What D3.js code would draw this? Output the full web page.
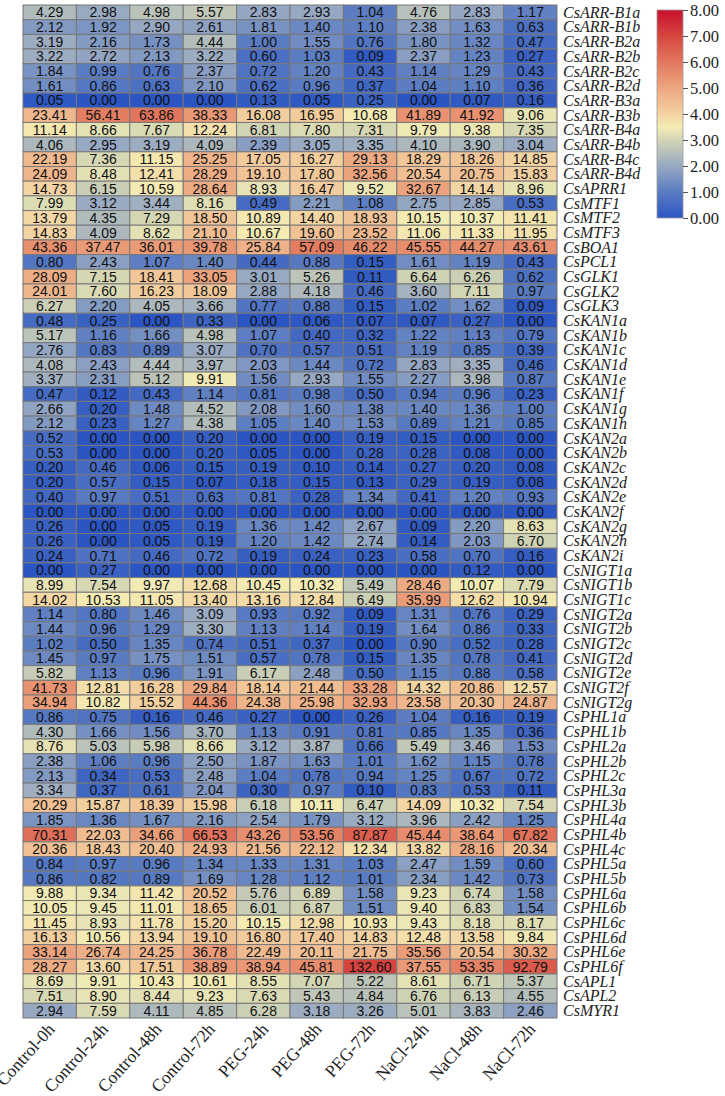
<!DOCTYPE html>
<html>
<head>
<meta charset="utf-8">
<script src="https://cdn.jsdelivr.net/npm/d3@7"></script>
<style>
body { margin:0; background:#fff; }
svg { display:block; }
.cell text { font-family:"Liberation Sans", Arial, sans-serif; font-size:14px; fill:#111; }
.gene { font-family:"Liberation Serif", "Times New Roman", serif; font-style:italic; font-size:16px; fill:#222; }
.cond { font-family:"Liberation Serif", "Times New Roman", serif; font-size:17.5px; fill:#222; }
</style>
</head>
<body>
<svg id="heat" width="725" height="1096"></svg>
<script>
var conditions = ["Control-0h","Control-24h","Control-48h","Control-72h","PEG-24h","PEG-48h","PEG-72h","NaCl-24h","NaCl-48h","NaCl-72h"];

var genes = ["CsARR-B1a","CsARR-B1b","CsARR-B2a","CsARR-B2b","CsARR-B2c","CsARR-B2d","CsARR-B3a","CsARR-B3b",
  "CsARR-B4a","CsARR-B4b","CsARR-B4c","CsARR-B4d","CsAPRR1","CsMTF1","CsMTF2","CsMTF3","CsBOA1","CsPCL1",
  "CsGLK1","CsGLK2","CsGLK3","CsKAN1a","CsKAN1b","CsKAN1c","CsKAN1d","CsKAN1e","CsKAN1f","CsKAN1g","CsKAN1h",
  "CsKAN2a","CsKAN2b","CsKAN2c","CsKAN2d","CsKAN2e","CsKAN2f","CsKAN2g","CsKAN2h","CsKAN2i",
  "CsNIGT1a","CsNIGT1b","CsNIGT1c","CsNIGT2a","CsNIGT2b","CsNIGT2c","CsNIGT2d","CsNIGT2e","CsNIGT2f","CsNIGT2g",
  "CsPHL1a","CsPHL1b","CsPHL2a","CsPHL2b","CsPHL2c","CsPHL3a","CsPHL3b","CsPHL4a","CsPHL4b","CsPHL4c",
  "CsPHL5a","CsPHL5b","CsPHL6a","CsPHL6b","CsPHL6c","CsPHL6d","CsPHL6e","CsPHL6f","CsAPL1","CsAPL2","CsMYR1"];

// expression values, one row per gene, columns follow conditions
var expr = [
  [4.29,2.98,4.98,5.57,2.83,2.93,1.04,4.76,2.83,1.17],
  [2.12,1.92,2.90,2.61,1.81,1.40,1.10,2.38,1.63,0.63],
  [3.19,2.16,1.73,4.44,1.00,1.55,0.76,1.80,1.32,0.47],
  [3.22,2.72,2.13,3.22,0.60,1.03,0.09,2.37,1.23,0.27],
  [1.84,0.99,0.76,2.37,0.72,1.20,0.43,1.14,1.29,0.43],
  [1.61,0.86,0.63,2.10,0.62,0.96,0.37,1.04,1.10,0.36],
  [0.05,0.00,0.00,0.00,0.13,0.05,0.25,0.00,0.07,0.16],
  [23.41,56.41,63.86,38.33,16.08,16.95,10.68,41.89,41.92,9.06],
  [11.14,8.66,7.67,12.24,6.81,7.80,7.31,9.79,9.38,7.35],
  [4.06,2.95,3.19,4.09,2.39,3.05,3.35,4.10,3.90,3.04],
  [22.19,7.36,11.15,25.25,17.05,16.27,29.13,18.29,18.26,14.85],
  [24.09,8.48,12.41,28.29,19.10,17.80,32.56,20.54,20.75,15.83],
  [14.73,6.15,10.59,28.64,8.93,16.47,9.52,32.67,14.14,8.96],
  [7.99,3.12,3.44,8.16,0.49,2.21,1.08,2.75,2.85,0.53],
  [13.79,4.35,7.29,18.50,10.89,14.40,18.93,10.15,10.37,11.41],
  [14.83,4.09,8.62,21.10,10.67,19.60,23.52,11.06,11.33,11.95],
  [43.36,37.47,36.01,39.78,25.84,57.09,46.22,45.55,44.27,43.61],
  [0.80,2.43,1.07,1.40,0.44,0.88,0.15,1.61,1.19,0.43],
  [28.09,7.15,18.41,33.05,3.01,5.26,0.11,6.64,6.26,0.62],
  [24.01,7.60,16.23,18.09,2.88,4.18,0.46,3.60,7.11,0.97],
  [6.27,2.20,4.05,3.66,0.77,0.88,0.15,1.02,1.62,0.09],
  [0.48,0.25,0.00,0.33,0.00,0.06,0.07,0.07,0.27,0.00],
  [5.17,1.16,1.66,4.98,1.07,0.40,0.32,1.22,1.13,0.79],
  [2.76,0.83,0.89,3.07,0.70,0.57,0.51,1.19,0.85,0.39],
  [4.08,2.43,4.44,3.97,2.03,1.44,0.72,2.83,3.35,0.46],
  [3.37,2.31,5.12,9.91,1.56,2.93,1.55,2.27,3.98,0.87],
  [0.47,0.12,0.43,1.14,0.81,0.98,0.50,0.94,0.96,0.23],
  [2.66,0.20,1.48,4.52,2.08,1.60,1.38,1.40,1.36,1.00],
  [2.12,0.23,1.27,4.38,1.05,1.40,1.53,0.89,1.21,0.85],
  [0.52,0.00,0.00,0.20,0.00,0.00,0.19,0.15,0.00,0.00],
  [0.53,0.00,0.00,0.20,0.05,0.00,0.28,0.28,0.08,0.00],
  [0.20,0.46,0.06,0.15,0.19,0.10,0.14,0.27,0.20,0.08],
  [0.20,0.57,0.15,0.07,0.18,0.15,0.13,0.29,0.19,0.08],
  [0.40,0.97,0.51,0.63,0.81,0.28,1.34,0.41,1.20,0.93],
  [0.00,0.00,0.00,0.00,0.00,0.00,0.00,0.00,0.00,0.00],
  [0.26,0.00,0.05,0.19,1.36,1.42,2.67,0.09,2.20,8.63],
  [0.26,0.00,0.05,0.19,1.20,1.42,2.74,0.14,2.03,6.70],
  [0.24,0.71,0.46,0.72,0.19,0.24,0.23,0.58,0.70,0.16],
  [0.00,0.27,0.00,0.00,0.00,0.00,0.00,0.00,0.12,0.00],
  [8.99,7.54,9.97,12.68,10.45,10.32,5.49,28.46,10.07,7.79],
  [14.02,10.53,11.05,13.40,13.16,12.84,6.49,35.99,12.62,10.94],
  [1.14,0.80,1.46,3.09,0.93,0.92,0.09,1.31,0.76,0.29],
  [1.44,0.96,1.29,3.30,1.13,1.14,0.19,1.64,0.86,0.33],
  [1.02,0.50,1.35,0.74,0.51,0.37,0.00,0.90,0.52,0.28],
  [1.45,0.97,1.75,1.51,0.57,0.78,0.15,1.35,0.78,0.41],
  [5.82,1.13,0.96,1.91,6.17,2.48,0.50,1.15,0.88,0.58],
  [41.73,12.81,16.28,29.84,18.14,21.44,33.28,14.32,20.86,12.57],
  [34.94,10.82,15.52,44.36,24.38,25.98,32.93,23.58,20.30,24.87],
  [0.86,0.75,0.16,0.46,0.27,0.00,0.26,1.04,0.16,0.19],
  [4.30,1.66,1.56,3.70,1.13,0.91,0.81,0.85,1.35,0.36],
  [8.76,5.03,5.98,8.66,3.12,3.87,0.66,5.49,3.46,1.53],
  [2.38,1.06,0.96,2.50,1.87,1.63,1.01,1.62,1.15,0.78],
  [2.13,0.34,0.53,2.48,1.04,0.78,0.94,1.25,0.67,0.72],
  [3.34,0.37,0.61,2.04,0.30,0.97,0.10,0.83,0.53,0.11],
  [20.29,15.87,18.39,15.98,6.18,10.11,6.47,14.09,10.32,7.54],
  [1.85,1.36,1.67,2.16,2.54,1.79,3.12,3.96,2.42,1.25],
  [70.31,22.03,34.66,66.53,43.26,53.56,87.87,45.44,38.64,67.82],
  [20.36,18.43,20.40,24.93,21.56,22.12,12.34,13.82,28.16,20.34],
  [0.84,0.97,0.96,1.34,1.33,1.31,1.03,2.47,1.59,0.60],
  [0.86,0.82,0.89,1.69,1.28,1.12,1.01,2.34,1.42,0.73],
  [9.88,9.34,11.42,20.52,5.76,6.89,1.58,9.23,6.74,1.58],
  [10.05,9.45,11.01,18.65,6.01,6.87,1.51,9.40,6.83,1.54],
  [11.45,8.93,11.78,15.20,10.15,12.98,10.93,9.43,8.18,8.17],
  [16.13,10.56,13.94,19.10,16.80,17.40,14.83,12.48,13.58,9.84],
  [33.14,26.74,24.25,36.78,22.49,20.11,21.75,35.56,20.54,30.32],
  [28.27,13.60,17.51,38.89,38.94,45.81,132.60,37.55,53.35,92.79],
  [8.69,9.91,10.43,10.61,8.55,7.07,5.22,8.61,6.71,5.37],
  [7.51,8.90,8.44,9.23,7.63,5.43,4.84,6.76,6.13,4.55],
  [2.94,7.59,4.11,4.85,6.28,3.18,3.26,5.01,3.83,2.46]
];

var legendTicks = [0,1,2,3,4,5,6,7,8];

// colour is driven by log2(value+1), legend runs 0..8
var stops = [0,1,2,3,3.5,4,5,6,7,8];
var stopColors = ["#2b55c2","#5a7cc2","#98a9c2","#d2d5b4","#f4ecb4","#f3d2a2","#eca680","#e2775e","#d5463f","#c8102e"];
var color = d3.scaleLinear().domain(stops).range(stopColors).clamp(true);

var svg = d3.select("#heat");
var gridL = 23, gridT = 5, gridR = 557, gridB = 1018;

var x = d3.scaleBand().domain(conditions).range([gridL, gridR]);
var y = d3.scaleBand().domain(genes).range([gridT, gridB]);

var cells = [];
expr.forEach(function(row, i) {
  row.forEach(function(v, j) {
    cells.push({gene: genes[i], cond: conditions[j], value: v});
  });
});

var cell = svg.append("g").attr("class","cell")
  .selectAll("g").data(cells).enter().append("g");

cell.append("rect")
  .attr("x", function(d) { return x(d.cond); })
  .attr("y", function(d) { return y(d.gene); })
  .attr("width", x.bandwidth())
  .attr("height", y.bandwidth())
  .attr("fill", function(d) { return color(Math.log2(d.value + 1)); })
  .attr("stroke", "#777")
  .attr("stroke-width", 1);

cell.append("text")
  .attr("x", function(d) { return x(d.cond) + x.bandwidth()/2; })
  .attr("y", function(d) { return y(d.gene) + y.bandwidth()/2; })
  .attr("dy", "0.36em")
  .attr("text-anchor", "middle")
  .text(function(d) { return d3.format(".2f")(d.value); });

// gene names on the right
svg.append("g").selectAll("text").data(genes).enter().append("text")
  .attr("class","gene")
  .attr("x", gridR + 6)
  .attr("y", function(d) { return y(d) + y.bandwidth()/2; })
  .attr("dy", "0.34em")
  .text(function(d) { return d; });

// condition labels, rotated
svg.append("g").selectAll("text").data(conditions).enter().append("text")
  .attr("class","cond")
  .attr("text-anchor","end")
  .attr("transform", function(d) {
    return "translate(" + (x(d) + x.bandwidth()/2 + 6) + "," + (gridB + 12) + ") rotate(-48)";
  })
  .text(function(d) { return d; });

// legend
var legX = 657, legW = 26, legTop = 10, legBot = 218;
var ly = d3.scaleLinear().domain([0, 8]).range([legBot, legTop]);

var defs = svg.append("defs");
var grad = defs.append("linearGradient").attr("id","lg")
  .attr("x1","0").attr("y1","1").attr("x2","0").attr("y2","0");
grad.selectAll("stop").data(stops).enter().append("stop")
  .attr("offset", function(d) { return d/8; })
  .attr("stop-color", function(d) { return color(d); });

var leg = svg.append("g").attr("class","leg");
leg.append("rect")
  .attr("x", legX).attr("y", legTop)
  .attr("width", legW).attr("height", legBot - legTop)
  .attr("fill","url(#lg)")
  .attr("stroke","#999").attr("stroke-width",0.8);

leg.append("g")
  .attr("transform","translate(" + (legX + legW) + ",0)")
  .call(d3.axisRight(ly).tickValues(legendTicks).tickFormat(d3.format(".2f")).tickSize(5).tickPadding(2))
  .call(function(g) {
    g.select(".domain").remove();
    g.selectAll("line").attr("stroke","#555");
    g.selectAll("text").attr("fill","#222").style("font-size","16.5px")
      .style("font-family","'Liberation Serif', serif");
  });
</script>
</body>
</html>
